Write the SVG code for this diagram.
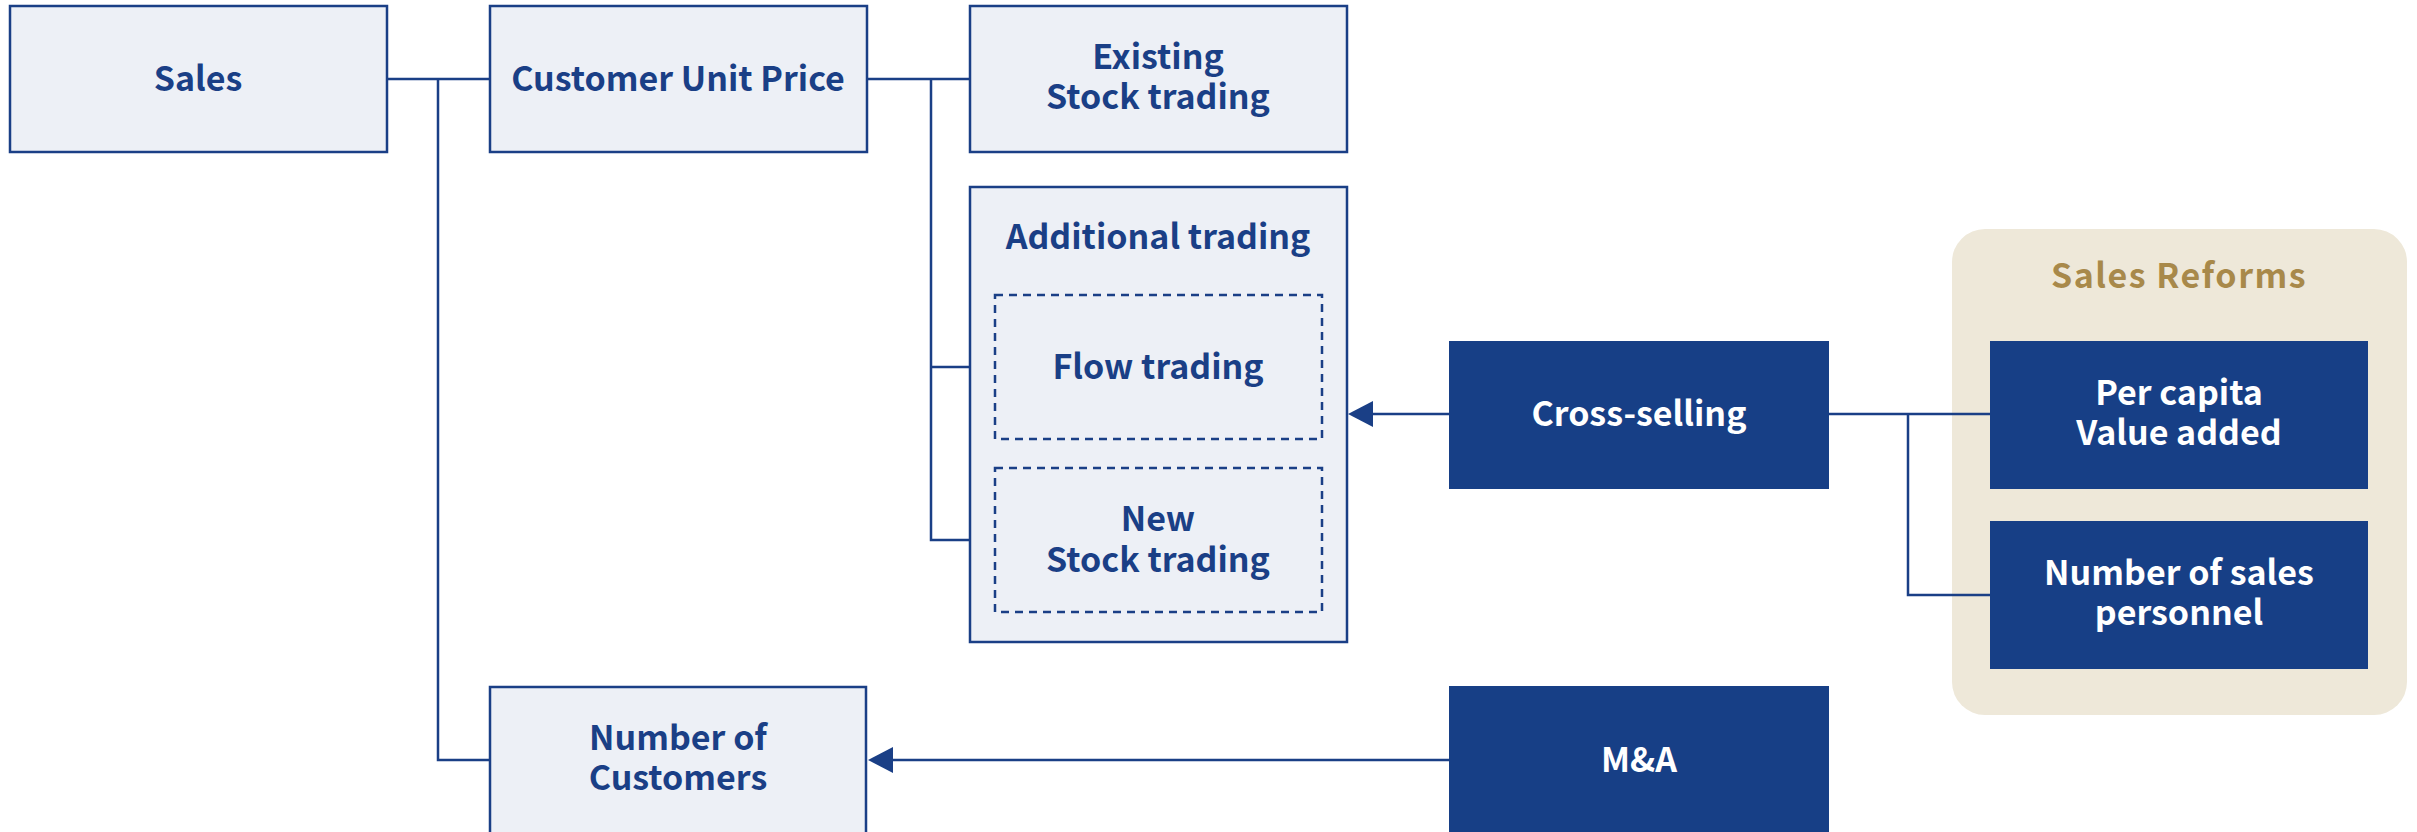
<svg xmlns="http://www.w3.org/2000/svg" width="2417" height="832" viewBox="0 0 2417 832">
  <style>
    .light { fill: #edf0f6; stroke: #1a3f86; stroke-width: 2.5; }
    .dash { fill: none; stroke: #1a3f86; stroke-width: 2.5; stroke-dasharray: 8 6; }
    .dark { fill: #173f86; }
    .panel { fill: #eee8d9; }
    .wire { fill: none; stroke: #1a3f86; stroke-width: 2.5; }
    text { font-family: "Noto Sans CJK JP", "Noto Sans", sans-serif; font-weight: bold; font-size: 34px; text-anchor: middle; }
    .tl { fill: #1a3f86; }
    .tw { fill: #ffffff; }
    .tg { fill: #a8894a; letter-spacing: 1.5px; }
  </style>
  <rect width="2417" height="832" fill="#ffffff"/>

  <g id="sales-reforms">
    <rect class="panel" x="1952" y="229" width="455" height="486" rx="33" ry="33"/>
    <text class="tg" x="2179" y="288">Sales Reforms</text>
  </g>

  <g id="connectors">
    <path class="wire" d="M387,79 H490 M438,79 V760 H490"/>
    <path class="wire" d="M867,79 H970 M931,79 V540 H995 M931,367 H995"/>
    <path class="wire" d="M1829,414 H1990 M1908,414 V595 H1990"/>
    <line x1="1449" y1="414" x2="1373" y2="414" stroke="#1a3f86" stroke-width="2.5"/>
    <path d="M1348,414 L1373,401 L1373,427 Z" fill="#1a3f86"/>
    <line x1="1449" y1="760" x2="893" y2="760" stroke="#1a3f86" stroke-width="2.5"/>
    <path d="M868,760 L893,747 L893,773 Z" fill="#1a3f86"/>
  </g>

  <g id="sales">
    <rect class="light" x="10" y="6" width="377" height="146"/>
    <text class="tl" x="198" y="91">Sales</text>
  </g>
  <g id="customer-unit-price">
    <rect class="light" x="490" y="6" width="377" height="146"/>
    <text class="tl" x="678" y="91">Customer Unit Price</text>
  </g>
  <g id="existing-stock-trading">
    <rect class="light" x="970" y="6" width="377" height="146"/>
    <text class="tl" x="1158" y="69">Existing<tspan x="1158" dy="40">Stock trading</tspan></text>
  </g>
  <g id="additional-trading">
    <rect class="light" x="970" y="187" width="377" height="455"/>
    <text class="tl" x="1158" y="249">Additional trading</text>
  </g>
  <g id="flow-trading">
    <rect class="dash" x="995" y="295" width="327" height="144"/>
    <text class="tl" x="1158" y="379">Flow trading</text>
  </g>
  <g id="new-stock-trading">
    <rect class="dash" x="995" y="468" width="327" height="144"/>
    <text class="tl" x="1158" y="531">New<tspan x="1158" dy="41">Stock trading</tspan></text>
  </g>
  <g id="number-of-customers">
    <rect class="light" x="490" y="687" width="376" height="160"/>
    <text class="tl" x="678" y="750">Number of<tspan x="678" dy="40">Customers</tspan></text>
  </g>
  <g id="cross-selling">
    <rect class="dark" x="1449" y="341" width="380" height="148"/>
    <text class="tw" x="1639" y="426">Cross-selling</text>
  </g>
  <g id="per-capita-value-added">
    <rect class="dark" x="1990" y="341" width="378" height="148"/>
    <text class="tw" x="2179" y="405">Per capita<tspan x="2179" dy="40">Value added</tspan></text>
  </g>
  <g id="number-of-sales-personnel">
    <rect class="dark" x="1990" y="521" width="378" height="148"/>
    <text class="tw" x="2179" y="585">Number of sales<tspan x="2179" dy="40">personnel</tspan></text>
  </g>
  <g id="m-and-a">
    <rect class="dark" x="1449" y="686" width="380" height="160"/>
    <text class="tw" x="1639" y="772">M&amp;A</text>
  </g>
</svg>
